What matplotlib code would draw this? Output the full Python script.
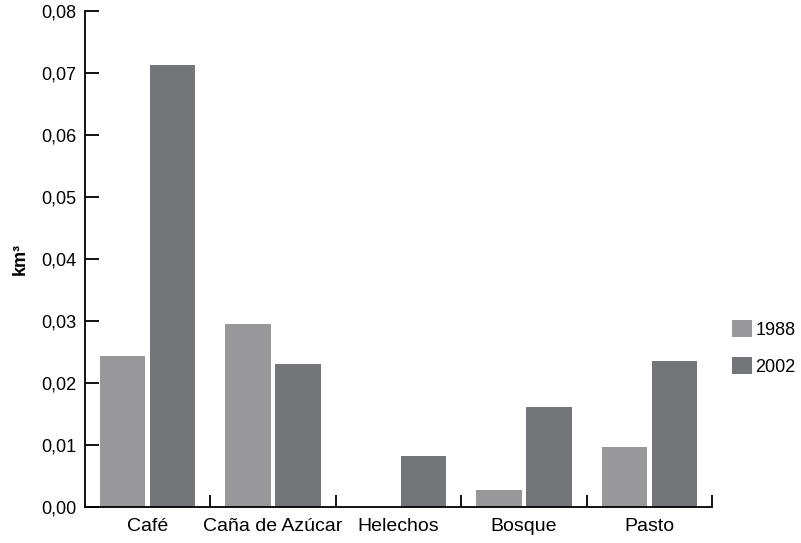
import numpy as np
import matplotlib
matplotlib.use("Agg")
import matplotlib.pyplot as plt
from matplotlib.ticker import FuncFormatter
from matplotlib.patches import Patch

categories = ["Café", "Caña de Azúcar", "Helechos", "Bosque", "Pasto"]
years = ["1988", "2002"]
v1988 = [0.0243, 0.0295, 0.0, 0.0027, 0.0097]
v2002 = [0.0713, 0.0230, 0.0082, 0.0161, 0.0235]

col1988 = "#98989b"
col2002 = "#747579"

plt.rcParams["font.family"] = ["Liberation Sans", "DejaVu Sans"]

fig = plt.figure(figsize=(8.01, 5.43), dpi=100)
ax = fig.add_axes([0.106, 0.067, 0.783, 0.912])

x = np.arange(len(categories)) + 0.5
w = 0.363
ax.bar(x - 0.2, v1988, width=w, color=col1988, label=years[0], zorder=2)
ax.bar(x + 0.2, v2002, width=w, color=col2002, label=years[1], zorder=2)

ax.set_xlim(0, len(categories))
ax.set_ylim(0, 0.08)
ax.set_yticks(np.arange(0, 0.081, 0.01))
ax.yaxis.set_major_formatter(FuncFormatter(lambda v, p: f"{v:.2f}".replace(".", ",")))

# boundary ticks without labels, category labels on minor ticks
ax.set_xticks(np.arange(1, len(categories) + 1))
ax.set_xticklabels([])
ax.set_xticks(x, minor=True)
ax.set_xticklabels(categories, minor=True)
ax.tick_params(axis="x", which="major", direction="in", length=9, width=1.3)
ax.tick_params(axis="x", which="minor", length=0, pad=8, labelsize=14)
ax.tick_params(axis="y", direction="in", length=10, width=1.3, pad=6, labelsize=13)

for s in ["top", "right"]:
    ax.spines[s].set_visible(False)
for s in ["left", "bottom"]:
    ax.spines[s].set_linewidth(1.3)

ax.set_ylabel("km³", fontsize=13, fontweight="bold", labelpad=9)

handles = [Patch(facecolor=col1988, label=years[0]), Patch(facecolor=col2002, label=years[1])]
fig.legend(handles=handles, loc="upper left", bbox_to_anchor=(0.905, 0.424),
           frameon=False, fontsize=13, handlelength=1.1, handleheight=1.1,
           handletextpad=0.2, labelspacing=1.0, borderaxespad=0)

fig.savefig("out.png", dpi=100)
